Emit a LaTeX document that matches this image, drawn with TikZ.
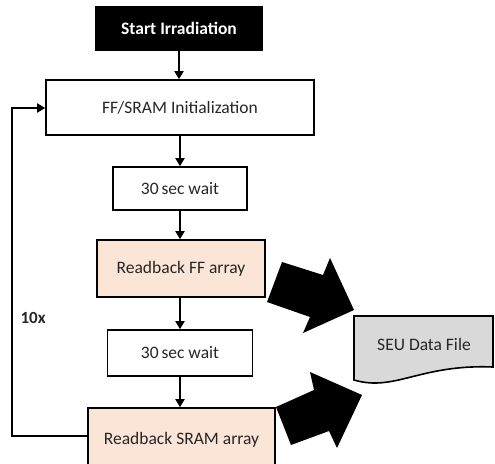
\documentclass[tikz,border=0pt]{standalone}
\usepackage{fontspec}
\setmainfont{Carlito}
\usetikzlibrary{arrows.meta}
\definecolor{peach}{HTML}{FBE5D6}
\definecolor{filegrey}{HTML}{D9D9D9}
\definecolor{ink}{HTML}{262626}
\begin{document}
\begin{tikzpicture}[x=1pt,y=-1pt,
  box/.style={draw=black,line width=1.6pt,fill=white,inner sep=0pt,
    font=\fontsize{17.5}{20}\selectfont,text=ink},
  flow/.style={line width=1.8pt,-{Triangle[length=8pt,width=9pt]}},
  bigarrow/.style={fill=black,draw=none}]
\useasboundingbox (0,0) rectangle (495,463);
\begin{scope}
\clip (0,0) rectangle (495,463);

% process boxes
\node[box,fill=black,text=white,font=\fontsize{17.5}{20}\selectfont\bfseries,
  minimum width=166pt,minimum height=43pt] (start) at (179,28.5) {Start Irradiation};
\node[box,minimum width=268pt,minimum height=55pt] (init) at (180,107.5) {FF/SRAM Initialization};
\node[box,minimum width=134pt,minimum height=43pt] (waitA) at (180,188.5) {30\,sec wait};
\node[box,fill=peach,minimum width=168pt,minimum height=57pt] (readFF) at (181,268.5) {Readback FF array};
\node[box,minimum width=145pt,minimum height=46pt] (waitB) at (180,353) {30\,sec wait};
\node[box,fill=peach,minimum width=187pt,minimum height=60pt,
  text depth=0pt] (readSRAM) at (181.5,438) {Readback SRAM array};

% output document
\draw[line width=1.6pt,fill=filegrey] (354,316) -- (493,316) -- (493,367)
  .. controls (420,364) and (395,392) .. (354,380) -- cycle;
\node[font=\fontsize{17.5}{20}\selectfont,text=ink] (seu) at (424,344) {SEU Data File};

% flow connectors
\draw[flow] (start.south) -- (start.south |- init.north);
\draw[flow] (init.south -| waitA.north) -- (waitA.north);
\draw[flow] (waitA.south) -- (readFF.north -| waitA.south);
\draw[flow] (readFF.south -| waitB.north) -- (waitB.north);
\draw[flow] (waitB.south) -- (readSRAM.north -| waitB.south);

% repeat loop
\coordinate (loopBL) at (12,436);
\coordinate (loopTL) at (12,108);
\draw[flow] (readSRAM.west |- loopBL) -- (loopBL) -- (loopTL) -- (init.west |- loopTL);
\node[font=\fontsize{17}{20}\selectfont\bfseries,text=ink,anchor=west] (times) at (17,318) {10x};

% block arrows into the data file
\fill[bigarrow] (267,302) -- (282,262) -- (323,275) -- (330,258) -- (354,310)
  -- (303,333) -- (310,317) -- cycle;
\fill[bigarrow] (276,407) -- (291,445) -- (329,431) -- (337,448) -- (362,395)
  -- (310,372) -- (314,390) -- cycle;
\end{scope}
\end{tikzpicture}
\end{document}
